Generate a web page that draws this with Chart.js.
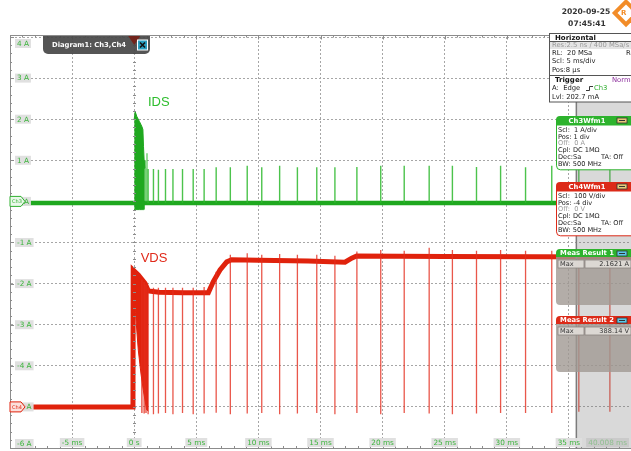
<!DOCTYPE html>
<html>
<head>
  <title>Diagram1: Ch3,Ch4</title>
  <script src="https://cdn.jsdelivr.net/npm/chart.js"></script>
  <style>
    body { margin: 0; background: #fff; }
  </style>
</head>
<body>
  <canvas id="chart" width="631" height="451"></canvas>
  <script>
    // axis ticks
    var xTickValues = [-5, 0, 5, 10, 15, 20, 25, 30, 35];
    var xTickLabels = ['-5 ms', '0 s', '5 ms', '10 ms', '15 ms', '20 ms', '25 ms', '30 ms', '35 ms'];
    var yTickValues = [4, 3, 2, 1, 0, -1, -2, -3, -4, -5, -6];
    var yTickLabels = ['4 A', '3 A', '2 A', '1 A', '0 A', '-1 A', '-2 A', '-3 A', '-4 A', '-5 A', '-6 A'];

    // Ch3 : IDS (A)
    var idsBaseT = [-10, 40];
    var idsBaseI = [-0.04, -0.04];
    var idsBurstT = [0.0, 0.08, 0.22, 0.43, 0.62, 0.70, 0.75, 0.80, 0.86];
    var idsBurstHi = [2.0, 2.18, 2.06, 1.94, 1.82, 1.75, 1.33, 1.0, 0.8];
    var idsBurstLo = [-0.2, -0.2, -0.2, -0.2, -0.2, -0.2, -0.2, -0.2, -0.2];
    var idsRingT = [0.93, 1.03];
    var idsRingI = [0.8, 1.17];

    // switching pulses (ms), same instants on both channels
    var pulseT = [1.12, 1.55, 1.95, 2.52, 3.12, 3.89, 4.75, 5.63, 6.6, 7.74, 9.1, 10.27, 11.71, 13.14, 14.7, 16.16, 17.93, 19.85, 21.74, 23.75, 25.62, 27.56, 29.5, 31.51, 33.62, 35.8, 38.3];
    var idsPulseI = [0.79, 0.79, 0.77, 0.79, 0.79, 0.79, 0.79, 0.79, 0.83, 0.83, 0.87, 0.83, 0.87, 0.83, 0.83, 0.83, 0.84, 0.87, 0.87, 0.87, 0.87, 0.84, 0.87, 0.83, 0.87, 0.85, 0.85];

    // Ch4 : VDS (V)
    var vdsT = [-10, -0.1, -0.08, 0.33, 0.87, 1.14, 2.0, 4.0, 5.97, 6.37, 6.91, 7.45, 7.85, 10.0, 14.0, 16.97, 17.51, 17.91, 25.0, 40.0];
    var vdsV = [0, 0, 333, 321, 301, 282, 279, 278, 278, 305, 333, 353, 358, 357, 355, 352, 362, 367, 366, 365];
    var vdsBurstT = [-0.08, 0.1, 0.33, 0.55, 0.73, 1.0, 1.14];
    var vdsBurstHi = [333, 328, 321, 312, 306, 296, 282];
    var vdsBurstLo = [333, 230, 138, 80, 41, -7, -10];
    var vdsRingT = [0.62, 0.8, 0.95];
    var vdsRingTop = [310, 304, 298];
    var vdsRingLow = [-15, -16, -15];
    var vdsPulseTop = [290, 290, 290, 290, 290, 290, 290, 292, 329, 370, 374, 370, 372, 370, 370, 368, 378, 382, 380, 387, 382, 380, 382, 380, 380, 378, 378];
    var vdsPulseLow = [-18, -18, -16, -15, -18, -15, -18, -16, -14, -18, -16, -15, -18, -16, -15, -18, -15, -18, -15, -16, -18, -16, -15, -15, -15, -12, -12];

    var recordEnd = 35.6; // ms, greyed part of the screen after it

    var F = '"DejaVu Sans", sans-serif';
    var GREEN = '#1fa81f';
    var RED = '#e0220c';

    function pts(ts, vs) {
      return ts.map(function (t, i) { return { x: t, y: vs[i] }; });
    }

    function spikeData(ts, lows, highs) {
      var out = [];
      for (var i = 0; i < ts.length; i++) {
        out.push({ x: ts[i], y: lows[i] }, { x: ts[i], y: highs[i] }, { x: ts[i], y: null });
      }
      return out;
    }

    function txt(ctx, s, x, y, font, color, align) {
      ctx.font = font;
      ctx.fillStyle = color;
      ctx.textAlign = align || 'left';
      ctx.textBaseline = 'middle';
      ctx.fillText(s, x, y);
    }

    function labelBox(ctx, s, x, y, align, color, bg) {
      ctx.font = '7.3px ' + F;
      var w = ctx.measureText(s).width;
      var left = align === 'left' ? x : (align === 'right' ? x - w - 4 : x - w / 2 - 2);
      ctx.fillStyle = bg || 'rgba(222,222,222,0.95)';
      ctx.fillRect(left, y - 4.5, w + 4, 9);
      txt(ctx, s, left + 2, y + 0.5, '7.3px ' + F, color);
    }

    function chMarker(ctx, y, stroke, fill, label) {
      ctx.beginPath();
      ctx.moveTo(10, y - 5); ctx.lineTo(21, y - 5); ctx.lineTo(25, y); ctx.lineTo(21, y + 5); ctx.lineTo(10, y + 5);
      ctx.closePath();
      ctx.fillStyle = fill; ctx.fill();
      ctx.strokeStyle = stroke; ctx.lineWidth = 1; ctx.stroke();
      txt(ctx, label, 12, y + 0.5, '5px ' + F, stroke);
    }

    function header(ctx, x, y, w, h, color, title, iconColor) {
      ctx.beginPath();
      ctx.roundRect(x, y, w, h, [4, 0, 0, 0]);
      ctx.fillStyle = color; ctx.fill();
      txt(ctx, title, x + 31, y + h / 2 + 0.5, 'bold 6.8px ' + F, '#fff', 'center');
      ctx.fillStyle = iconColor;
      ctx.fillRect(x + 61, y + 2, 10, 5);
      ctx.strokeStyle = '#333'; ctx.lineWidth = 0.8;
      ctx.strokeRect(x + 61, y + 2, 10, 5);
      ctx.fillStyle = '#333';
      ctx.fillRect(x + 63, y + 4, 6, 1);
    }

    function wfmBox(ctx, y, color, title, lines) {
      header(ctx, 556, y, 76, 9, color, title, '#e8c878');
      ctx.beginPath();
      ctx.roundRect(556.5, y + 9, 76, lines.length * 6.8 + 4, [0, 0, 0, 4]);
      ctx.fillStyle = '#fff'; ctx.fill();
      ctx.strokeStyle = color; ctx.lineWidth = 1; ctx.stroke();
      lines.forEach(function (l, i) {
        var yy = y + 14 + i * 6.8;
        txt(ctx, l[0], 558, yy, '6.6px ' + F, l[2] || '#222');
        if (l[1]) txt(ctx, l[1], 601, yy, '6.6px ' + F, '#222');
      });
    }

    function measBox(ctx, y, color, title, value) {
      header(ctx, 556, y, 76, 8, color, title, '#5cc8e8');
      ctx.beginPath();
      ctx.roundRect(556, y + 8, 76, 48, [0, 0, 0, 4]);
      ctx.fillStyle = 'rgba(160,152,146,0.8)'; ctx.fill();
      ctx.fillStyle = 'rgba(222,218,214,0.95)';
      ctx.fillRect(558, y + 11, 26, 8);
      ctx.fillRect(585, y + 11, 46, 8);
      ctx.strokeStyle = '#8a8480'; ctx.lineWidth = 0.8;
      ctx.strokeRect(558, y + 11, 26, 8);
      ctx.strokeRect(585, y + 11, 46, 8);
      txt(ctx, 'Max', 560, y + 15.5, '6.6px ' + F, '#333');
      txt(ctx, value, 629, y + 15.5, '6.6px ' + F, '#333', 'right');
    }

    var scopeDecor = {
      id: 'scopeDecor',
      beforeDraw: function (chart) {
        var ctx = chart.ctx;
        ctx.save();
        ctx.fillStyle = '#fff';
        ctx.fillRect(0, 0, chart.width, chart.height);
        ctx.restore();
      },
      afterDatasetsDraw: function (chart) {
        var ctx = chart.ctx, a = chart.chartArea, xs = chart.scales.x;
        var xe = xs.getPixelForValue(recordEnd);
        ctx.save();
        ctx.fillStyle = 'rgba(120,120,120,0.28)';
        ctx.fillRect(xe, a.top, a.right - xe, a.bottom - a.top);
        ctx.strokeStyle = '#7c7c7c'; ctx.lineWidth = 1.5;
        ctx.beginPath(); ctx.moveTo(xe, a.top); ctx.lineTo(xe, a.bottom); ctx.stroke();
        ctx.restore();
      },
      afterDraw: function (chart) {
        var ctx = chart.ctx, a = chart.chartArea;
        var xs = chart.scales.x, ys = chart.scales.y, vs = chart.scales.v;
        ctx.save();

        // frame: top line and small ticks
        ctx.strokeStyle = '#8c8c8c'; ctx.lineWidth = 1;
        ctx.beginPath(); ctx.moveTo(a.left, 35.5); ctx.lineTo(a.right, 35.5); ctx.stroke();
        ctx.beginPath();
        for (var t = -10; t <= 40; t += 1) {
          var x = Math.round(xs.getPixelForValue(t)) + 0.5, L = (t % 5 === 0) ? 4 : 2;
          ctx.moveTo(x, 35.5); ctx.lineTo(x, 35.5 + L);
          ctx.moveTo(x, a.bottom); ctx.lineTo(x, a.bottom - L);
        }
        for (var v = -6; v <= 4.001; v += 0.2) {
          var y = Math.round(ys.getPixelForValue(v)) + 0.5;
          var major = Math.abs(v - Math.round(v)) < 0.01;
          ctx.moveTo(a.left, y); ctx.lineTo(a.left + (major ? 4 : 2), y);
          var x0 = Math.round(xs.getPixelForValue(0)) + 0.5;
          ctx.moveTo(x0 - 1.5, y); ctx.lineTo(x0 + 1.5, y);
        }
        ctx.stroke();

        // tick labels
        yTickValues.forEach(function (val, i) {
          var y = ys.getPixelForValue(val);
          if (i === 0) y += 6.5;
          if (i === yTickValues.length - 1) y -= 4.5;
          labelBox(ctx, yTickLabels[i], 15, y, 'left', '#3cb43c');
        });
        xTickValues.forEach(function (val, i) {
          labelBox(ctx, xTickLabels[i], xs.getPixelForValue(val), 442.5, 'center', '#3cb43c');
        });
        labelBox(ctx, '40.008 ms', 629, 442.5, 'right', '#8fbf8f', 'rgba(200,200,200,0.9)');

        // channel markers at the ground levels
        chMarker(ctx, ys.getPixelForValue(0), '#2fb02f', '#eaf8ea', 'Ch3');
        chMarker(ctx, vs.getPixelForValue(0), RED, '#fbe0dc', 'Ch4');

        // trace names
        txt(ctx, 'IDS', xs.getPixelForValue(1.11), ys.getPixelForValue(2.42), '13px "Liberation Sans", sans-serif', '#2dbd2d');
        txt(ctx, 'VDS', xs.getPixelForValue(0.52), vs.getPixelForValue(362), '13px "Liberation Sans", sans-serif', '#e02a1a');

        // diagram tab
        ctx.beginPath();
        ctx.roundRect(43, 36, 107, 18, [0, 0, 5, 5]);
        ctx.fillStyle = 'rgba(72,72,72,0.93)'; ctx.fill();
        txt(ctx, 'Diagram1: Ch3,Ch4', 52, 45.5, 'bold 6.8px ' + F, '#fff');
        var xt = xs.getPixelForValue(0);
        ctx.beginPath();
        ctx.moveTo(xt - 6, 36); ctx.lineTo(xt + 6, 36); ctx.lineTo(xt, 45); ctx.closePath();
        ctx.fillStyle = 'rgba(120,28,18,0.85)'; ctx.fill();
        ctx.fillStyle = '#fff'; ctx.fillRect(137, 39.5, 11, 11);
        ctx.fillStyle = '#2a9ec0'; ctx.fillRect(138, 40.5, 9, 9);
        ctx.strokeStyle = '#111'; ctx.lineWidth = 1.6;
        ctx.beginPath(); ctx.moveTo(140, 42.5); ctx.lineTo(145, 47.5); ctx.moveTo(145, 42.5); ctx.lineTo(140, 47.5); ctx.stroke();

        // date / logo
        txt(ctx, '2020-09-25', 586, 12.5, 'bold 7.6px ' + F, '#333', 'center');
        txt(ctx, '07:45:41', 587, 24, 'bold 7.6px ' + F, '#333', 'center');
        ctx.save();
        ctx.translate(626, 13); ctx.rotate(Math.PI / 4);
        ctx.fillStyle = '#f28c28'; ctx.fillRect(-10, -10, 20, 20);
        ctx.fillStyle = '#fff'; ctx.fillRect(-6, -6, 12, 12);
        ctx.restore();
        txt(ctx, 'R', 621, 13, 'bold 7px ' + F, '#f28c28');

        // horizontal / trigger box
        ctx.fillStyle = '#fff'; ctx.fillRect(549, 33, 83, 69);
        ctx.fillStyle = '#e4e4e4'; ctx.fillRect(549, 41.5, 83, 7.5);
        ctx.strokeStyle = '#555'; ctx.lineWidth = 1;
        ctx.strokeRect(549.5, 33.5, 83, 68.5);
        ctx.beginPath(); ctx.moveTo(549, 41.5); ctx.lineTo(632, 41.5); ctx.moveTo(549, 75.5); ctx.lineTo(632, 75.5); ctx.stroke();
        var PF = '6.8px ' + F;
        txt(ctx, 'Horizontal', 555, 37.8, 'bold 7px ' + F, '#111');
        txt(ctx, 'Res:2.5 ns / 400 MSa/s', 552, 45.3, PF, '#999');
        txt(ctx, 'RL:  20 MSa', 552, 53.5, PF, '#222');
        txt(ctx, 'Rec', 626, 53.5, PF, '#222');
        txt(ctx, 'Scl: 5 ms/div', 552, 61.7, PF, '#222');
        txt(ctx, 'Pos:8 \u00b5s', 552, 69.9, PF, '#222');
        txt(ctx, 'Trigger', 555, 80, 'bold 7px ' + F, '#111');
        txt(ctx, 'Norm', 612, 80, PF, '#8a2a9a');
        txt(ctx, 'A:  Edge', 552, 88.5, PF, '#222');
        ctx.strokeStyle = '#222'; ctx.lineWidth = 0.9;
        ctx.beginPath(); ctx.moveTo(586, 90.5); ctx.lineTo(589.5, 90.5); ctx.lineTo(589.5, 86.5); ctx.lineTo(593, 86.5); ctx.stroke();
        txt(ctx, 'Ch3', 594, 88.5, PF, '#2faf2f');
        txt(ctx, 'Lvl: 202.7 mA', 552, 96.8, PF, '#222');

        // channel boxes
        wfmBox(ctx, 116, '#2db32d', 'Ch3Wfm1', [
          ['Scl:  1 A/div'], ['Pos: 1 div'], ['Off:  0 A', null, '#9a9a9a'],
          ['Cpl: DC 1M\u03a9'], ['Dec:Sa', 'TA: Off'], ['BW: 500 MHz']
        ]);
        wfmBox(ctx, 182, '#dc2a18', 'Ch4Wfm1', [
          ['Scl:  100 V/div'], ['Pos: -4 div'], ['Off:  0 V', null, '#9a9a9a'],
          ['Cpl: DC 1M\u03a9'], ['Dec:Sa', 'TA: Off'], ['BW: 500 MHz']
        ]);

        // measurement results
        measBox(ctx, 249, '#2db32d', 'Meas Result 1', '2.1621 A');
        measBox(ctx, 316, '#dc2a18', 'Meas Result 2', '388.14 V');

        ctx.restore();
      }
    };

    var idsLow = pulseT.map(function () { return idsBaseI[0]; });

    var ctx = document.getElementById('chart').getContext('2d');
    var myChart = new Chart(ctx, {
      type: 'line',
      data: {
        datasets: [
          { data: spikeData(pulseT, idsLow, idsPulseI), borderColor: 'rgba(45,185,45,0.85)', borderWidth: 1.4, yAxisID: 'y' },
          { data: spikeData(idsRingT, [0, 0], idsRingI), borderColor: 'rgba(60,190,60,0.7)', borderWidth: 1.5, yAxisID: 'y' },
          { data: pts(idsBaseT, idsBaseI), borderColor: GREEN, borderWidth: 4.5, yAxisID: 'y' },
          { data: pts(idsBurstT, idsBurstHi), borderColor: GREEN, backgroundColor: GREEN, borderWidth: 1, fill: '+1', yAxisID: 'y' },
          { data: pts(idsBurstT, idsBurstLo), borderColor: GREEN, borderWidth: 1, yAxisID: 'y' },
          { data: spikeData(pulseT, vdsPulseTop, vdsPulseLow), borderColor: 'rgba(228,45,30,0.8)', borderWidth: 1.3, yAxisID: 'v' },
          { data: spikeData(vdsRingT, vdsRingTop, vdsRingLow), borderColor: 'rgba(228,45,30,0.9)', borderWidth: 1.3, yAxisID: 'v' },
          { data: pts(vdsT, vdsV), borderColor: RED, borderWidth: 5, yAxisID: 'v' },
          { data: pts(vdsBurstT, vdsBurstHi), borderColor: RED, backgroundColor: RED, borderWidth: 1, fill: '+1', yAxisID: 'v' },
          { data: pts(vdsBurstT, vdsBurstLo), borderColor: RED, borderWidth: 1, yAxisID: 'v' }
        ]
      },
      options: {
        animation: false,
        responsive: false,
        devicePixelRatio: 1,
        layout: { padding: { left: 10, top: 37, right: 0, bottom: 3 } },
        elements: { point: { radius: 0 }, line: { tension: 0 } },
        plugins: { legend: { display: false }, tooltip: { enabled: false } },
        scales: {
          x: {
            type: 'linear', min: -10, max: 40,
            ticks: { display: false, stepSize: 5 },
            grid: { color: '#a6a6a6', drawTicks: false },
            border: { display: true, color: '#8c8c8c', dash: [2, 2] }
          },
          y: {
            type: 'linear', position: 'left', min: -6, max: 4,
            ticks: { display: false, stepSize: 1 },
            grid: { color: '#a6a6a6', drawTicks: false },
            border: { display: true, color: '#8c8c8c', dash: [2, 2] }
          },
          v: { type: 'linear', display: false, min: -100, max: 900 }
        }
      },
      plugins: [scopeDecor]
    });
  </script>
</body>
</html>
